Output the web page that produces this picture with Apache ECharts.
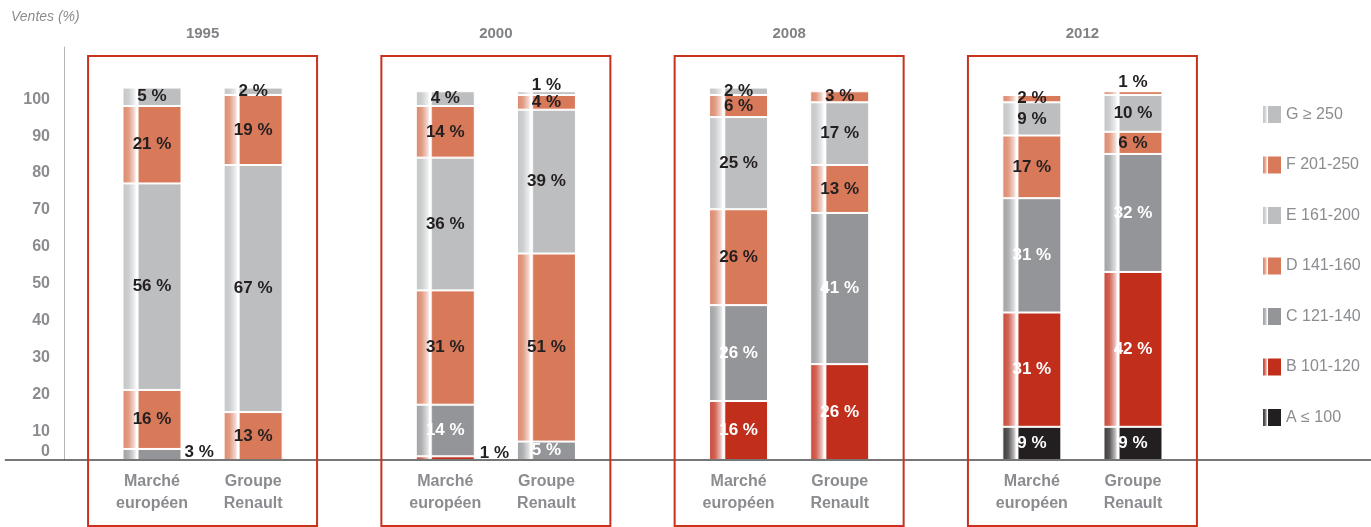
<!DOCTYPE html>
<html>
<head>
<meta charset="utf-8">
<script src="https://cdn.jsdelivr.net/npm/echarts@6/dist/echarts.min.js"></script>
<style>
  html, body { margin: 0; padding: 0; background: #fff; }
  #chart { width: 1371px; height: 527px; }
</style>
</head>
<body>
<div id="chart"></div>
<script>
// années et barres de chaque groupe
const years = ["1995", "2000", "2008", "2012"];
const barNames = ["Marché\neuropéen", "Groupe\nRenault"];

// classes d'émission (ordre d'empilement, du bas vers le haut)
const classNames = ["A ≤ 100", "B 101-120", "C 121-140", "D 141-160", "E 161-200", "F 201-250", "G ≥ 250"];

// parts de ventes (%) : 1995 M, 1995 R, 2000 M, 2000 R, 2008 M, 2008 R, 2012 M, 2012 R
const valuesA = [0, 0, 0, 0, 0, 0, 9, 9];
const valuesB = [0, 0, 1, 0, 16, 26, 31, 42];
const valuesC = [3, 0, 14, 5, 26, 41, 31, 32];
const valuesD = [16, 13, 31, 51, 26, 13, 17, 6];
const valuesE = [56, 67, 36, 39, 25, 17, 9, 10];
const valuesF = [21, 19, 14, 4, 6, 3, 2, 1];
const valuesG = [5, 2, 4, 1, 2, 0, 0, 0];
const allValues = [valuesA, valuesB, valuesC, valuesD, valuesE, valuesF, valuesG];

const FONT = "'Liberation Sans', Arial, sans-serif";
const GREY_TEXT = "#8a8c8f";
const DARK = "#231f20";

const baseColors = ["#231f20", "#c12f1c", "#939598", "#d8795a", "#bcbec0", "#d8795a", "#bcbec0"];
const labelColors = ["#fff", "#fff", "#fff", DARK, DARK, DARK, DARK];

// l'axe x est découpé en petites cases pour espacer les groupes
const SLOT_COUNT = 135;
const FIRST_SLOT = 14;
const PAIR_GAP = 10;    // entre les deux barres d'une année
const GROUP_GAP = 29;   // d'une année à la suivante
const SLOT_PX = 10.1134;
const slotOf = k => FIRST_SLOT + Math.floor(k / 2) * GROUP_GAP + (k % 2) * PAIR_GAP;
const barSlots = valuesA.map((_, k) => slotOf(k));
const slotNames = Array.from({ length: SLOT_COUNT }, (_, i) => String(i));

const bottomLabel = {};
barSlots.forEach((s, k) => { bottomLabel[s] = barNames[k % 2]; });
const topLabel = {};
years.forEach((y, g) => { topLabel[slotOf(2 * g) + PAIR_GAP / 2] = y; });

function mix(hex, t) {
  const n = parseInt(hex.slice(1), 16);
  const r = (n >> 16) & 255, g = (n >> 8) & 255, b = n & 255;
  const m = c => Math.round(c + (255 - c) * t);
  return `rgb(${m(r)},${m(g)},${m(b)})`;
}

// reflet vertical sur la gauche des barres
function barFill(c) {
  return new echarts.graphic.LinearGradient(0, 0, 1, 0, [
    { offset: 0, color: mix(c, 0.12) },
    { offset: 0.1, color: mix(c, 0.25) },
    { offset: 0.2, color: mix(c, 0.7) },
    { offset: 0.235, color: "#ffffff" },
    { offset: 0.26, color: "#ffffff" },
    { offset: 0.285, color: c },
    { offset: 1, color: c },
  ]);
}

// étiquettes placées hors de la barre
const labelOverrides = {
  2: { 0: { position: "right", distance: 3, offset: [0, -2], color: DARK } },
  1: { 2: { position: "right", distance: 5, offset: [0, -5], color: DARK } },
  6: { 3: { position: "top", distance: -3 } },
  5: { 7: { position: "top", distance: 0 } },
};

const series = allValues.map((vals, s) => {
  const data = slotNames.map(() => "-");
  vals.forEach((v, k) => {
    if (!v) return;
    const item = { value: v };
    if (labelOverrides[s] && labelOverrides[s][k]) item.label = labelOverrides[s][k];
    data[barSlots[k]] = item;
  });
  return {
    name: classNames[s],
    type: "bar",
    stack: "total",
    barWidth: 59,
    data: data,
    itemStyle: {
      color: barFill(baseColors[s]),
      borderColor: "#fff",
      borderWidth: 1,
    },
    label: {
      show: true,
      position: "inside",
      color: labelColors[s],
      fontFamily: FONT,
      fontWeight: "bold",
      fontSize: 17,
      formatter: p => p.value + " %",
    },
  };
});

const gridLeft = 152 - (FIRST_SLOT + 0.5) * SLOT_PX;

const options = {
  animation: false,
  backgroundColor: "#fff",
  title: {
    text: "Ventes (%)",
    left: 11,
    top: 10,
    padding: 0,
    textStyle: { fontFamily: FONT, fontStyle: "italic", fontWeight: "normal", fontSize: 14, color: GREY_TEXT },
  },
  grid: { left: gridLeft, width: SLOT_COUNT * SLOT_PX, top: 47, bottom: 67 },
  legend: {
    orient: "vertical",
    left: 1263,
    top: 106,
    padding: 0,
    itemWidth: 18,
    itemHeight: 17,
    itemGap: 33.5,
    icon: "rect",
    itemStyle: { borderWidth: 0 },
    data: classNames.slice().reverse(),
    textStyle: { fontFamily: FONT, fontSize: 16, color: GREY_TEXT },
  },
  xAxis: [
    {
      type: "category",
      data: slotNames,
      z: 5,
      axisLine: { lineStyle: { color: "#4a4a4a", width: 1.5 } },
      axisTick: { show: false },
      axisLabel: {
        interval: 0,
        formatter: (v, i) => bottomLabel[i] || "",
        margin: 11,
        lineHeight: 22,
        fontFamily: FONT,
        fontWeight: "bold",
        fontSize: 16,
        color: GREY_TEXT,
      },
    },
    {
      type: "category",
      data: slotNames,
      position: "top",
      axisLine: { show: false },
      axisTick: { show: false },
      axisLabel: {
        interval: 0,
        formatter: (v, i) => topLabel[i] || "",
        margin: 6,
        fontFamily: FONT,
        fontWeight: "bold",
        fontSize: 15,
        color: "#7f8184",
      },
    },
  ],
  yAxis: [
    {
      type: "value",
      position: "left",
      offset: gridLeft - 64,
      min: 0,
      max: 112,
      interval: 10,
      axisLine: { show: true, lineStyle: { color: "#b4b5b7", width: 1 } },
      axisTick: { show: false },
      splitLine: { show: false },
      axisLabel: {
        formatter: v => (v > 0 && v <= 100 ? String(v) : ""),
        verticalAlign: "top",
        margin: 14,
        fontFamily: FONT,
        fontWeight: "bold",
        fontSize: 16,
        color: GREY_TEXT,
      },
    },
    {
      type: "value",
      position: "left",
      offset: gridLeft - 64,
      min: 0,
      max: 112,
      interval: 10,
      axisLine: { show: false },
      axisTick: { show: false },
      splitLine: { show: false },
      axisLabel: {
        formatter: v => (v === 0 ? "0" : ""),
        verticalAlign: "bottom",
        margin: 14,
        fontFamily: FONT,
        fontWeight: "bold",
        fontSize: 16,
        color: GREY_TEXT,
      },
    },
  ],
  series: series,
};

const chart = echarts.init(document.getElementById("chart"));
chart.setOption(options);

// cadres rouges autour de chaque année
const boxes = years.map((_, g) => {
  const a = chart.convertToPixel({ xAxisIndex: 0 }, slotOf(2 * g));
  const b = chart.convertToPixel({ xAxisIndex: 0 }, slotOf(2 * g + 1));
  const c = (a + b) / 2;
  return {
    type: "rect",
    z: 10,
    shape: { x: c - 114.5, y: 56, width: 229, height: 470 },
    style: { fill: "none", stroke: "#c8321f", lineWidth: 2 },
  };
});
chart.setOption({ graphic: boxes });

window.addEventListener("resize", () => chart.resize());
</script>
</body>
</html>
